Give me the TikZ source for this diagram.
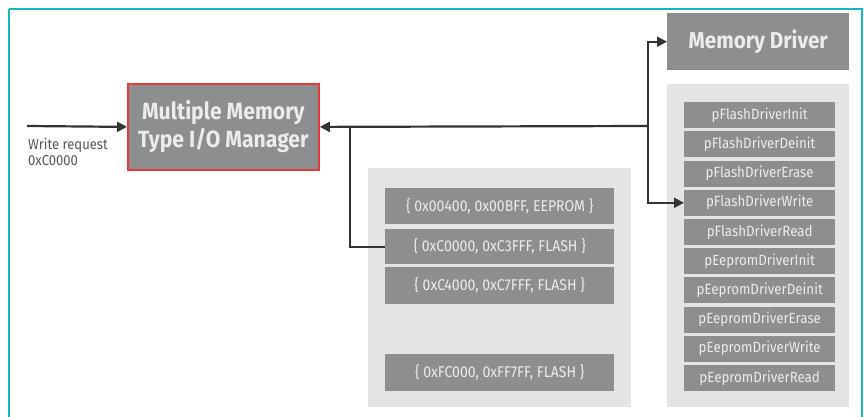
\documentclass[tikz,border=0pt]{standalone}
\usepackage{fontspec}
\setmainfont{Fira Sans}[FakeStretch=0.9]
\usetikzlibrary{arrows.meta}
\definecolor{framec}{HTML}{19B3C3}
\definecolor{boxgray}{HTML}{8D8E90}
\definecolor{panelgray}{HTML}{E3E4E5}
\definecolor{redb}{HTML}{E23B3B}
\definecolor{linec}{HTML}{333333}
\definecolor{txtw}{HTML}{ECECEC}
\definecolor{txtd}{HTML}{555555}
\begin{document}
\begin{tikzpicture}[x=1pt,y=-1pt,
  box/.style={fill=boxgray, text=txtw, inner sep=0pt, anchor=north west, align=center},
  panel/.style={fill=panelgray, inner sep=0pt, anchor=north west},
  rowbox/.style={box, minimum width=151pt, minimum height=26pt, font=\fontsize{14.8}{16}\selectfont},
  addrbox/.style={box, minimum width=229pt, font=\fontsize{15.6}{17}\selectfont},
  conn/.style={draw=linec, line width=2.2pt, -{Triangle[length=10pt,width=10pt]}},
  branch/.style={draw=linec, line width=1.6pt}
]
\useasboundingbox (0,0) rectangle (864,417);
\draw[framec, line width=2.5pt] (9,9) -- (862,9) -- (862,440) (9,9) -- (9,440);

% manager
\node[box, draw=redb, line width=1.8pt, minimum width=191pt, minimum height=86pt,
      font=\fontsize{23.5}{28}\selectfont\bfseries] (mgr) at (127,83)
      {Multiple Memory\\Type I/O Manager};

% memory driver
\node[box, minimum width=182pt, minimum height=57pt, font=\fontsize{23}{25}\selectfont\bfseries]
      (md) at (667,13) {Memory Driver};

% panels
\node[panel, minimum width=182pt, minimum height=323pt] (rp) at (667,84) {};
\node[panel, minimum width=263pt, minimum height=239pt] (mp) at (368,168) {};

% driver rows
\foreach \t [count=\i] in {pFlashDriverInit,pFlashDriverDeinit,pFlashDriverErase,pFlashDriverWrite,pFlashDriverRead,pEepromDriverInit,pEepromDriverDeinit,pEepromDriverErase,pEepromDriverWrite,pEepromDriverRead}
  \node[rowbox] (r\i) at (684,{102+(\i-1)*29.2}) {\t};

% address boxes
\node[addrbox, minimum height=36pt] (a1) at (385,188) {\{ 0x00400, 0x00BFF, EEPROM \}};
\node[addrbox, minimum height=35pt] (a2) at (385,229) {\{ 0xC0000, 0xC3FFF, FLASH \}};
\node[addrbox, minimum height=37pt] (a3) at (385,267) {\{ 0xC4000, 0xC7FFF, FLASH \}};
\node[addrbox, minimum height=37pt] (a4) at (385,354) {\{ 0xFC000, 0xFF7FF, FLASH \}};

% input
\coordinate (in) at (27,126);
\node[anchor=north west, inner sep=0pt, text=txtd, align=left, font=\fontsize{14.5}{16}\selectfont]
  (wr) at (28,138) {Write request\\0xC0000};
\draw[conn] (in) -- (mgr.west);

% junctions
\coordinate (j) at (648,126);
\coordinate (b) at (350,126);
\draw[conn] (j) -- (mgr.east);
\draw[conn] (j) |- (md.west);
\draw[conn] (j) |- (r4.west);
\draw[branch] (b) |- (a2.west);
\end{tikzpicture}
\end{document}
